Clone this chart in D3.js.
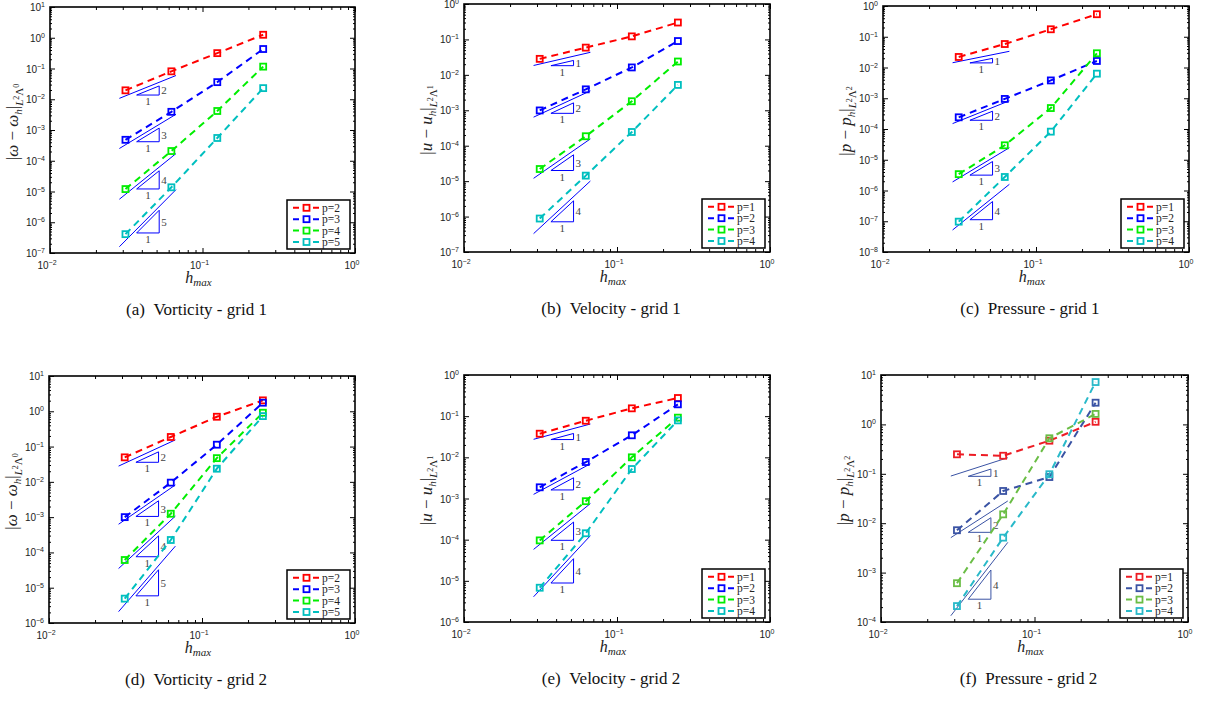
<!DOCTYPE html>
<html>
<head>
<meta charset="utf-8">
<script src="https://cdn.jsdelivr.net/npm/d3@7"></script>
<style>
body { margin: 0; background: #fff; }
svg text { font-family: "Liberation Serif", "Times New Roman", serif; fill: #222; }
.tick-lbl { font-family: "Liberation Sans", Arial, sans-serif; }
</style>
</head>
<body>
<svg id="fig" width="1206" height="701"></svg>
<script>
// mesh size h_max, same for every panel
var hValues = [1/32, 1/16, 1/8, 1/4];
var xTickExp = [-2, -1, 0];

// (a) vorticity - grid 1
var vortG1Labels = ["p=2", "p=3", "p=4", "p=5"];
var vortG1Err = [
  [0.0195, 0.081, 0.316, 1.25],
  [4.8e-4, 3.9e-3, 0.036, 0.43],
  [1.2e-5, 2.07e-4, 4.15e-3, 0.115],
  [4.1e-7, 1.37e-5, 5.5e-4, 0.023]
];
var vortG1Rates = [2, 3, 4, 5];
var vortG1RefStart = [0.0107, 2.5e-4, 5.6e-6, 1.6e-7];

// (b) velocity - grid 1
var velG1Labels = ["p=1", "p=2", "p=3", "p=4"];
var velG1Err = [
  [0.0283, 0.0587, 0.122, 0.30],
  [9.9e-4, 3.9e-3, 0.0162, 0.090],
  [2.2e-5, 1.85e-4, 1.8e-3, 0.0238],
  [8.8e-7, 1.43e-5, 2.44e-4, 5.2e-3]
];
var velG1Rates = [1, 2, 3, 4];
var velG1RefStart = [0.0184, 6.4e-4, 1.2e-5, 3.3e-7];

// (c) pressure - grid 1
var presG1Labels = ["p=1", "p=2", "p=3", "p=4"];
var presG1Err = [
  [0.022, 0.058, 0.175, 0.54],
  [2.4e-4, 9.5e-4, 3.8e-3, 0.0163],
  [3.4e-6, 2.95e-5, 4.8e-4, 0.029],
  [9.7e-8, 2.75e-6, 8.2e-5, 6.3e-3]
];
var presG1Rates = [1, 2, 3, 4];
var presG1RefStart = [0.0143, 1.5e-4, 1.9e-6, 5.2e-8];

// (d) vorticity - grid 2
var vortG2Labels = ["p=2", "p=3", "p=4", "p=5"];
var vortG2Err = [
  [0.0495, 0.187, 0.70, 2.04],
  [1.0e-3, 9.5e-3, 0.113, 1.75],
  [6.1e-5, 1.25e-3, 0.047, 0.91],
  [4.9e-6, 2.25e-4, 0.0236, 0.73]
];
var vortG2Rates = [2, 3, 4, 5];
var vortG2RefStart = [0.028, 6.3e-4, 3.5e-5, 2.1e-6];

// (e) velocity - grid 2
var velG2Labels = ["p=1", "p=2", "p=3", "p=4"];
var velG2Err = [
  [0.0375, 0.0774, 0.155, 0.276],
  [1.87e-3, 7.7e-3, 0.0343, 0.194],
  [9.6e-5, 8.6e-4, 0.010, 0.092],
  [6.8e-6, 1.43e-4, 5.2e-3, 0.079]
];
var velG2Rates = [1, 2, 3, 4];
var velG2RefStart = [0.0274, 1.26e-3, 5.8e-5, 4.1e-6];

// (f) pressure - grid 2
var presG2Labels = ["p=1", "p=2", "p=3", "p=4"];
var presG2Err = [
  [0.248, 0.232, 0.468, 1.13],
  [7.2e-3, 0.0449, 0.086, 2.75],
  [6.1e-4, 0.0151, 0.524, 1.63],
  [2.1e-4, 5.1e-3, 0.098, 7.2]
];
var presG2Rates = [1, 2, 4];
var presG2RefStart = [0.09, 5.1e-3, 1.34e-4];

// reference slope lines and triangles
var refX = [0.0285, 0.067];
var triX = [0.037, 0.052];
var triDrop = 0.76;

var colorsStd = ["#ff0000", "#0000ff", "#00ee00", "#00bfbf"];
var colorsAlt = ["#ed1c24", "#3a53a4", "#6abd45", "#29b9c9"];

var panels = [
  {left: 50, top: 7, right: 355, bottom: 253, yExp: [-7, 1], err: vortG1Err, labels: vortG1Labels, rates: vortG1Rates, refStart: vortG1RefStart, sym: "\u03c9", k: "0", caption: "(a)\u00a0\u00a0Vorticity - grid 1", colors: colorsStd, refColor: "#0000ff"},
  {left: 464, top: 4, right: 770, bottom: 252, yExp: [-7, 0], err: velG1Err, labels: velG1Labels, rates: velG1Rates, refStart: velG1RefStart, sym: "u", k: "1", caption: "(b)\u00a0\u00a0Velocity - grid 1", colors: colorsStd, refColor: "#0000ff"},
  {left: 883, top: 6, right: 1189, bottom: 252, yExp: [-8, 0], err: presG1Err, labels: presG1Labels, rates: presG1Rates, refStart: presG1RefStart, sym: "p", k: "2", caption: "(c)\u00a0\u00a0Pressure - grid 1", colors: colorsStd, refColor: "#0000ff"},
  {left: 49, top: 376, right: 355, bottom: 623, yExp: [-6, 1], err: vortG2Err, labels: vortG2Labels, rates: vortG2Rates, refStart: vortG2RefStart, sym: "\u03c9", k: "0", caption: "(d)\u00a0\u00a0Vorticity - grid 2", colors: colorsStd, refColor: "#0000ff"},
  {left: 464, top: 375, right: 770, bottom: 622, yExp: [-6, 0], err: velG2Err, labels: velG2Labels, rates: velG2Rates, refStart: velG2RefStart, sym: "u", k: "1", caption: "(e)\u00a0\u00a0Velocity - grid 2", colors: colorsStd, refColor: "#0000ff"},
  {left: 881, top: 375, right: 1188, bottom: 622, yExp: [-4, 1], err: presG2Err, labels: presG2Labels, rates: presG2Rates, refStart: presG2RefStart, sym: "p", k: "2", caption: "(f)\u00a0\u00a0Pressure - grid 2", colors: colorsAlt, refColor: "#3a53a4"}
];

var svg = d3.select("#fig");

function decadeTicks(a, b) {
  var major = [], minor = [];
  for (var e = a; e <= b; e++) {
    major.push(Math.pow(10, e));
    if (e < b) for (var m = 2; m <= 9; m++) minor.push(m * Math.pow(10, e));
  }
  return {major: major, minor: minor};
}

function powLabel(g, px, py, exp, anchor) {
  var t = g.append("text").attr("class", "tick-lbl")
    .attr("x", px).attr("y", py)
    .attr("text-anchor", anchor)
    .style("font-size", "10px");
  t.append("tspan").text("10");
  t.append("tspan").attr("dy", -4).style("font-size", "7px").text(exp < 0 ? "\u2212" + (-exp) : String(exp));
}

function drawPanel(P) {
  var g = svg.append("g");
  var x = d3.scaleLog().domain([1e-2, 1]).range([P.left, P.right]);
  var y = d3.scaleLog().domain([Math.pow(10, P.yExp[0]), Math.pow(10, P.yExp[1])]).range([P.bottom, P.top]);
  var xt = decadeTicks(-2, 0), yt = decadeTicks(P.yExp[0], P.yExp[1]);

  // ticks on all four sides, pointing inward
  function addAxis(axis, tx, ty) {
    var a = g.append("g").attr("transform", "translate(" + tx + "," + ty + ")").call(axis);
    a.select(".domain").remove();
    a.selectAll("text").remove();
    a.selectAll("line").attr("stroke", "#000").attr("stroke-width", 1);
  }
  addAxis(d3.axisBottom(x).tickValues(xt.major).tickSize(-5), 0, P.bottom);
  addAxis(d3.axisBottom(x).tickValues(xt.minor).tickSize(-3), 0, P.bottom);
  addAxis(d3.axisTop(x).tickValues(xt.major).tickSize(-5), 0, P.top);
  addAxis(d3.axisTop(x).tickValues(xt.minor).tickSize(-3), 0, P.top);
  addAxis(d3.axisLeft(y).tickValues(yt.major).tickSize(-5), P.left, 0);
  addAxis(d3.axisLeft(y).tickValues(yt.minor).tickSize(-2), P.left, 0);
  addAxis(d3.axisRight(y).tickValues(yt.major).tickSize(-5), P.right, 0);
  addAxis(d3.axisRight(y).tickValues(yt.minor).tickSize(-2), P.right, 0);

  g.append("rect")
    .attr("x", P.left).attr("y", P.top)
    .attr("width", P.right - P.left).attr("height", P.bottom - P.top)
    .attr("fill", "none").attr("stroke", "#000").attr("stroke-width", 1.6);

  // tick labels
  xTickExp.forEach(function (e) {
    powLabel(g, x(Math.pow(10, e)) - 3, P.bottom + 16, e, "middle");
  });
  for (var e = P.yExp[0]; e <= P.yExp[1]; e++) {
    powLabel(g, P.left - 5, y(Math.pow(10, e)) + 4, e, "end");
  }

  // reference lines with slope triangles
  P.rates.forEach(function (r, i) {
    var ref = function (h) { return P.refStart[i] * Math.pow(h / refX[0], r); };
    g.append("line")
      .attr("x1", x(refX[0])).attr("y1", y(ref(refX[0])))
      .attr("x2", x(refX[1])).attr("y2", y(ref(refX[1])))
      .attr("stroke", P.refColor).attr("stroke-width", 1);
    var yb = ref(triX[0]) * triDrop;
    var yt2 = yb * Math.pow(triX[1] / triX[0], r);
    g.append("path")
      .attr("d", "M" + x(triX[0]) + "," + y(yb) + "L" + x(triX[1]) + "," + y(yb) + "L" + x(triX[1]) + "," + y(yt2) + "Z")
      .attr("fill", "none").attr("stroke", P.refColor).attr("stroke-width", 1);
    g.append("text")
      .attr("x", x(triX[1]) + 2).attr("y", (y(yb) + y(yt2)) / 2 + 4)
      .style("font-size", "11px").style("fill", "#444").text(r);
    g.append("text")
      .attr("x", (x(triX[0]) + x(triX[1])) / 2).attr("y", y(yb) + 10)
      .attr("text-anchor", "middle")
      .style("font-size", "11px").style("fill", "#444").text("1");
  });

  // error curves
  var line = d3.line().x(function (d) { return x(d[0]); }).y(function (d) { return y(d[1]); });
  P.err.forEach(function (s, i) {
    var pts = hValues.map(function (h, j) { return [h, s[j]]; });
    g.append("path").datum(pts).attr("d", line)
      .attr("fill", "none").attr("stroke", P.colors[i])
      .attr("stroke-width", 2).attr("stroke-dasharray", "7,5");
    g.selectAll(null).data(pts).enter().append("rect")
      .attr("x", function (d) { return x(d[0]) - 3; })
      .attr("y", function (d) { return y(d[1]) - 3; })
      .attr("width", 6).attr("height", 6)
      .attr("fill", "none").attr("stroke", P.colors[i]).attr("stroke-width", 1.8);
  });

  // legend
  var lx = P.right - 68, ly = P.bottom - 53;
  var lg = g.append("g").attr("transform", "translate(" + lx + "," + ly + ")");
  lg.append("rect").attr("width", 63).attr("height", 49)
    .attr("fill", "#fff").attr("stroke", "#000").attr("stroke-width", 1.5);
  P.labels.forEach(function (lab, i) {
    var ry = 7.8 + i * 11.4;
    lg.append("line").attr("x1", 6).attr("x2", 33).attr("y1", ry).attr("y2", ry)
      .attr("stroke", P.colors[i]).attr("stroke-width", 2).attr("stroke-dasharray", "6,4");
    lg.append("rect").attr("x", 16.5).attr("y", ry - 3).attr("width", 6).attr("height", 6)
      .attr("fill", "#fff").attr("stroke", P.colors[i]).attr("stroke-width", 1.8);
    lg.append("text").attr("x", 35).attr("y", ry + 4)
      .style("font-size", "11.5px").text(lab);
  });

  // y label |s - s_h|_{L2 Lambda k}
  var cy = (P.top + P.bottom) / 2 - 8;
  var yl = g.append("text")
    .attr("transform", "translate(" + (P.left - 32) + "," + cy + ") rotate(-90)")
    .attr("text-anchor", "middle").style("font-size", "17px");
  yl.append("tspan").text("|");
  yl.append("tspan").style("font-style", "italic").text(P.sym);
  yl.append("tspan").text(" \u2212 ");
  yl.append("tspan").style("font-style", "italic").text(P.sym);
  yl.append("tspan").attr("dy", 4).style("font-style", "italic").style("font-size", "11px").text("h");
  yl.append("tspan").attr("dy", -4).text("|");
  yl.append("tspan").attr("dy", 5).style("font-style", "italic").style("font-size", "11px").text("L");
  yl.append("tspan").attr("dy", -4).style("font-size", "8px").text("2");
  yl.append("tspan").attr("dy", 4).style("font-size", "11px").text("\u039b");
  yl.append("tspan").attr("dy", -4).style("font-size", "8px").text(P.k);

  // x label h_max
  var xl = g.append("text")
    .attr("x", (P.left + P.right) / 2 - 4).attr("y", P.bottom + 30)
    .attr("text-anchor", "middle").style("font-size", "16px").style("font-style", "italic");
  xl.append("tspan").text("h");
  xl.append("tspan").attr("dy", 3).style("font-size", "11px").text("max");

  // caption
  g.append("text")
    .attr("x", (P.left + P.right) / 2 - 6).attr("y", P.bottom + 62)
    .attr("text-anchor", "middle").style("font-size", "17px").style("fill", "#111")
    .text(P.caption);
}

panels.forEach(drawPanel);
</script>
</body>
</html>
